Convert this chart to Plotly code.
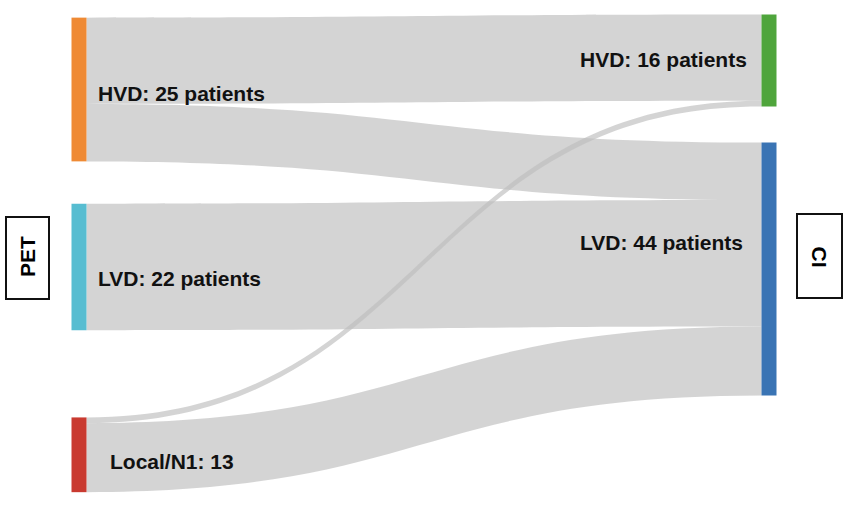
import plotly.graph_objects as go

# ---- data ----
node_names = ["PET HVD", "PET LVD", "PET Local/N1", "CI HVD", "CI LVD"]
node_labels = ["HVD: 25 patients", "LVD: 22 patients", "Local/N1: 13",
               "HVD: 16 patients", "LVD: 44 patients"]
node_colors = ["#EF8A34", "#57BDD1", "#C93A30", "#4FA53C", "#3A74B4"]
link_source = [0, 0, 1, 2, 2]
link_target = [3, 4, 4, 3, 4]
link_value = [15, 10, 22, 1, 12]
side_titles = ["PET", "CI"]

# ---- layout constants ----
W, H = 847, 514
node_x = [79 / W, 79 / W, 79 / W, 769 / W, 769 / W]
node_y = [89.5 / H, 267 / H, 454.8 / H, 60.5 / H, 269 / H]

fig = go.Figure(go.Sankey(
    arrangement="fixed",
    domain=dict(x=[0, 1], y=[0, 1]),
    node=dict(
        label=["", "", "", "", ""],
        customdata=node_names,
        color=node_colors,
        pad=84.5,
        thickness=15,
        line=dict(width=0),
        x=node_x,
        y=node_y,
        hovertemplate="%{customdata}: %{value}<extra></extra>",
    ),
    link=dict(
        source=link_source,
        target=link_target,
        value=link_value,
        color="rgba(190,190,190,0.66)",
    ),
))

label_font = dict(family="Liberation Sans, Arial, sans-serif", size=21, color="#111111", weight="bold")
# (x px, y px, anchor)
label_pos = [(98, 93, "left"), (98, 278.5, "left"), (110, 461, "left"),
             (747, 59, "right"), (743, 242.5, "right")]
for txt, (px, py, anc) in zip(node_labels, label_pos):
    fig.add_annotation(x=px / W, y=1 - py / H, xref="paper", yref="paper",
                       text=txt, showarrow=False, xanchor=anc, yanchor="middle",
                       font=label_font, borderpad=0, borderwidth=0)

title_font = dict(family="Liberation Sans, Arial, sans-serif", size=21, color="#000000", weight="bold")
# side boxes
fig.add_shape(type="rect", xref="paper", yref="paper",
              x0=6 / W, x1=49 / W, y0=1 - 217 / H, y1=1 - 299 / H,
              line=dict(color="#111111", width=2), fillcolor="white")
fig.add_shape(type="rect", xref="paper", yref="paper",
              x0=797 / W, x1=842 / W, y0=1 - 214 / H, y1=1 - 298 / H,
              line=dict(color="#111111", width=2), fillcolor="white")
fig.add_annotation(x=27 / W, y=1 - 257 / H, xref="paper", yref="paper",
                   text=side_titles[0], textangle=-90, showarrow=False,
                   xanchor="center", yanchor="middle", font=title_font,
                   borderpad=0, borderwidth=0)
fig.add_annotation(x=819 / W, y=1 - 256.5 / H, xref="paper", yref="paper",
                   text=side_titles[1], textangle=90, showarrow=False,
                   xanchor="center", yanchor="middle", font=title_font,
                   borderpad=0, borderwidth=0)

fig.update_layout(
    width=W, height=H,
    margin=dict(l=0, r=0, t=0, b=0),
    paper_bgcolor="white",
    plot_bgcolor="white",
    showlegend=False,
)

fig.write_html("out.html")
